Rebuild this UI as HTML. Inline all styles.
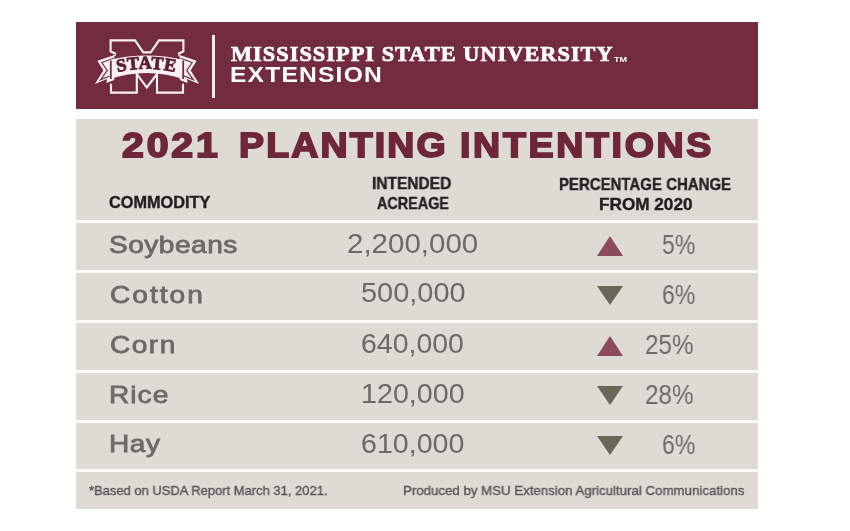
<!DOCTYPE html>
<html><head><meta charset="utf-8">
<style>
html,body{margin:0;padding:0;background:#fff;width:850px;height:531px;overflow:hidden;position:relative}
*{box-sizing:border-box}
.a{position:absolute;white-space:nowrap;line-height:1;transform-origin:0 0;will-change:transform}
.s{font-family:"Liberation Sans",sans-serif}
.sf{font-family:"Liberation Serif",serif}
#hdr{position:absolute;left:76px;top:22px;width:682px;height:87px;background:#732c3e}
#box{position:absolute;left:76px;top:119px;width:682px;height:390px;background:#dedad4}
.ln{position:absolute;left:76px;width:682px;height:3px;background:#fbfaf7}
.title{color:#6e2738;font-weight:bold}
.msu{color:#fff;font-weight:bold;-webkit-text-stroke:0.7px #fff}
.ext{color:#fff;font-weight:bold}
.ch{color:#231f20;font-weight:bold}
.nm{color:#6b6a68;font-weight:normal}
.num{color:#6b6a68}
.ft{color:#555}
</style></head><body>
<div id="hdr"></div>
<div id="box"></div>
<div class="ln" style="top:220px"></div>
<div class="ln" style="top:270px"></div>
<div class="ln" style="top:320px"></div>
<div class="ln" style="top:370px"></div>
<div class="ln" style="top:420px"></div>
<div class="ln" style="top:469px"></div>
<div class="a" style="left:212.3px;top:35px;width:2.5px;height:63px;background:#f6e8ec"></div>
<div class="a s" style="left:614px;top:56.4px;font-size:7.4px;font-weight:bold;color:#fff;transform:scaleX(1.22)">TM</div>
<div class="a s title" id="t1" style="left:122.00px;top:126.60px;font-size:35px;transform:scaleX(1.1200);letter-spacing:2.542px;-webkit-text-stroke:1.8px currentColor">2021</div>
<div class="a s title" id="t2" style="left:239.10px;top:127.10px;font-size:35px;transform:scaleX(1.0716);letter-spacing:2.0px;-webkit-text-stroke:1.8px currentColor">PLANTING</div>
<div class="a s title" id="t3" style="left:460.00px;top:127.10px;font-size:35px;transform:scaleX(1.0720);letter-spacing:2.5px;-webkit-text-stroke:1.8px currentColor">INTENTIONS</div>
<div class="a sf msu" id="msu" style="left:231.00px;top:43.80px;font-size:21px;transform:scaleX(1.0600);letter-spacing:1.0px">MISSISSIPPI STATE UNIVERSITY</div>
<div class="a s ext" id="ext" style="left:229.80px;top:63.90px;font-size:22px;transform:scaleX(1.1200);letter-spacing:1.046px">EXTENSION</div>
<div class="a s ch" id="c1" style="left:109.30px;top:194.10px;font-size:16.3px;transform:scaleX(1.0006);-webkit-text-stroke:0.4px currentColor">COMMODITY</div>
<div class="a s ch" id="c2a" style="left:372.30px;top:175.20px;font-size:16.3px;transform:scaleX(0.9527);-webkit-text-stroke:0.4px currentColor">INTENDED</div>
<div class="a s ch" id="c2b" style="left:376.80px;top:194.60px;font-size:16.3px;transform:scaleX(0.8832);-webkit-text-stroke:0.4px currentColor">ACREAGE</div>
<div class="a s ch" id="c3a" style="left:559.40px;top:176.10px;font-size:16.3px;transform:scaleX(0.9202);-webkit-text-stroke:0.4px currentColor">PERCENTAGE CHANGE</div>
<div class="a s ch" id="c3b" style="left:599.10px;top:195.50px;font-size:16.3px;transform:scaleX(1.0544);-webkit-text-stroke:0.4px currentColor">FROM 2020</div>
<div class="a s nm" id="n0" style="left:108.60px;top:233.10px;font-size:24px;transform:scaleX(1.1700);letter-spacing:0.414px;-webkit-text-stroke:0.8px currentColor">Soybeans</div>
<div class="a s nm" id="n1" style="left:109.80px;top:283.20px;font-size:24px;transform:scaleX(1.1700);letter-spacing:1.73px;-webkit-text-stroke:0.8px currentColor">Cotton</div>
<div class="a s nm" id="n2" style="left:109.80px;top:333.00px;font-size:24px;transform:scaleX(1.1700);letter-spacing:1.269px;-webkit-text-stroke:0.8px currentColor">Corn</div>
<div class="a s nm" id="n3" style="left:109.00px;top:383.00px;font-size:24px;transform:scaleX(1.1700);letter-spacing:0.899px;-webkit-text-stroke:0.8px currentColor">Rice</div>
<div class="a s nm" id="n4" style="left:109.00px;top:432.00px;font-size:24px;transform:scaleX(1.1700);letter-spacing:0.5px;-webkit-text-stroke:0.8px currentColor">Hay</div>
<div class="a s num" id="v0" style="left:346.70px;top:230.20px;font-size:27.5px;transform:scaleX(1.0724)">2,200,000</div>
<div class="a s num" id="v1" style="left:361.00px;top:279.40px;font-size:27.5px;transform:scaleX(1.0521)">500,000</div>
<div class="a s num" id="v2" style="left:361.00px;top:330.00px;font-size:27.5px;transform:scaleX(1.0347)">640,000</div>
<div class="a s num" id="v3" style="left:360.90px;top:380.00px;font-size:27.5px;transform:scaleX(1.0427)">120,000</div>
<div class="a s num" id="v4" style="left:361.20px;top:430.00px;font-size:27.5px;transform:scaleX(1.0398)">610,000</div>
<div class="a s num" id="p0" style="left:661.80px;top:232.00px;font-size:27px;transform:scaleX(0.8528)">5%</div>
<div class="a s num" id="p1" style="left:661.80px;top:282.00px;font-size:27px;transform:scaleX(0.8528)">6%</div>
<div class="a s num" id="p2" style="left:645.20px;top:332.20px;font-size:27px;transform:scaleX(0.8982)">25%</div>
<div class="a s num" id="p3" style="left:645.20px;top:382.00px;font-size:27px;transform:scaleX(0.8982)">28%</div>
<div class="a s num" id="p4" style="left:661.80px;top:432.00px;font-size:27px;transform:scaleX(0.8528)">6%</div>
<div class="a s ft" id="f1" style="left:88.60px;top:484.00px;font-size:13.5px;transform:scaleX(0.9603);-webkit-text-stroke:0.35px currentColor">*Based on USDA Report March 31, 2021.</div>
<div class="a s ft" id="f2" style="left:403.40px;top:484.00px;font-size:13.5px;transform:scaleX(0.9825);-webkit-text-stroke:0.35px currentColor">Produced by MSU Extension Agricultural Communications</div>
<svg class="a" id="logo" style="left:0;top:0" width="850" height="531" viewBox="0 0 850 531">
<g fill="none" stroke="#fbf1f3" stroke-width="2.1" stroke-linejoin="miter">
<path d="M116,54 L110.6,51.3 L110.6,40.4 L135,40.4 L143.3,52.4 L150.7,52.4 L159,40.4 L183.4,40.4 L183.4,51.3 L178,54"/>
<path d="M111.5,84 L111,84.5 L111,92.6 L136.8,92.6 L136.8,74 L146.8,87.5 L157,74 L157,92.6 L183,92.6 L183,84.5 L182.5,84"/>
</g>
<g fill="#fbf1f3" stroke="#fbf1f3" stroke-width="1.4" stroke-linejoin="miter">
<path d="M115.6,55.3 L98.4,61.2 L104.2,70.3 L96.6,82.6 L108,77.8 L107.3,82 L113.5,79.5 L113.5,56 Z"/>
<path d="M178.4,55.3 L195.6,61.2 L189.8,70.3 L197.4,82.6 L186,77.8 L186.7,82 L180.5,79.5 L180.5,56 Z"/>
</g>
<g fill="none" stroke="#732c3e" stroke-width="1.2">
<path d="M113.5,58.2 L101.8,62.5 L107.3,70.4 L100.6,79.6 L110.5,75.8"/>
<path d="M180.5,58.2 L192.2,62.5 L186.7,70.4 L193.4,79.6 L183.5,75.8"/>
</g>
<path d="M109.4,59.9 Q146.5,51.3 183.6,59.9 L183.6,79.2 Q146.5,66.8 109.4,79.2 Z" fill="#fbf1f3"/>
<path d="M110.8,60.5 L110.8,79 M183.2,60.5 L183.2,79" fill="none" stroke="#732c3e" stroke-width="1.8"/>
<defs><path id="arc" d="M110,74 Q146.5,63.6 183,74"/></defs>
<text font-family="Liberation Serif" font-weight="bold" font-size="18" fill="#5e1f30" stroke="#5e1f30" stroke-width="0.9" letter-spacing="0.4"><textPath href="#arc" startOffset="50%" text-anchor="middle">STATE</textPath></text>
</svg>
<svg class="a" style="left:0;top:0" width="850" height="531">
<polygon points="597,256 610,236 623,256" fill="#8c4b5c"/>
<polygon points="597,286 623,286 610,305" fill="#6b6656"/>
<polygon points="597,356 610,336 623,356" fill="#8c4b5c"/>
<polygon points="597,386 623,386 610,405" fill="#6b6656"/>
<polygon points="597,436 623,436 610,455" fill="#6b6656"/>
</svg>
</body></html>
